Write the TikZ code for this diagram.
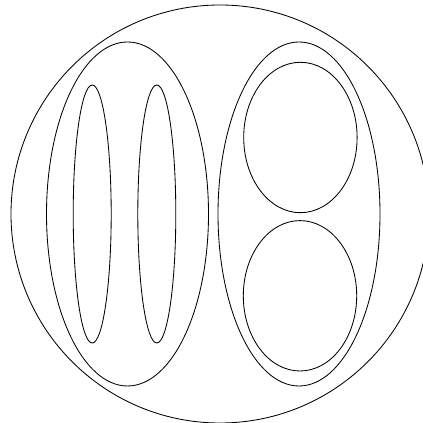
\documentclass[tikz,border=0pt]{standalone}
\usepackage{tikz}
\usetikzlibrary{shapes.geometric}

\begin{document}
\begin{tikzpicture}[
    line width=0.6pt,
    blob/.style={draw, ellipse, inner sep=0pt},
    outerset/.style={blob, minimum width=4.05cm, minimum height=8.6cm},
    slim/.style={blob, minimum width=0.95cm, minimum height=6.45cm},
    egg/.style={blob, minimum width=2.835cm, minimum height=3.76cm}
]
    \useasboundingbox (0,0) rectangle (10.575,10.575);
    \clip (0,0) rectangle (10.575,10.575);
    \node[blob, minimum width=10.45cm, minimum height=10.45cm] (universe) at (5.5,5.225) {};

    \node[outerset] (left) at (3.1875,5.225) {};
    \node[slim] (leftA) at (2.305,5.225) {};
    \node[slim] (leftB) at (3.92,5.225) {};

    \node[outerset] (right) at (7.475,5.225) {};
    \node[egg] (upper) at (7.51,7.1375) {};
    \node[egg] (lower) at (7.5,3.18) {};
\end{tikzpicture}
\end{document}
